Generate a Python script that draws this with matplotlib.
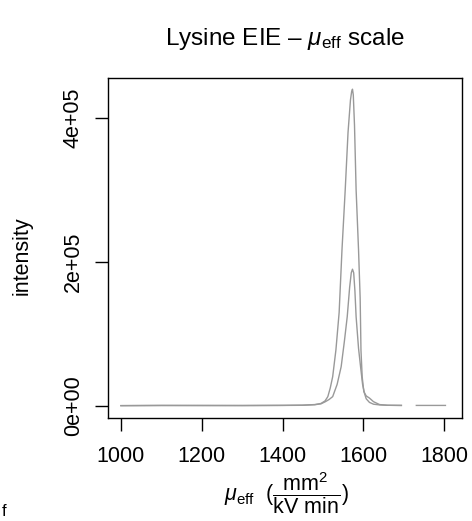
import numpy as np
import matplotlib
matplotlib.use("Agg")
import matplotlib.pyplot as plt

plt.rcParams['font.family'] = ['Liberation Sans', 'DejaVu Sans']
plt.rcParams['mathtext.fontset'] = 'custom'
plt.rcParams['mathtext.rm'] = 'Liberation Sans'
plt.rcParams['mathtext.it'] = 'Liberation Sans:italic'

# tall trace (mu_eff, intensity)
mu_a = [1000, 1100, 1200, 1300, 1400, 1450, 1480, 1495, 1505, 1512, 1518, 1524,
        1532, 1540, 1547, 1555, 1562, 1568, 1571, 1573, 1575, 1578, 1582, 1588,
        1592, 1594, 1597, 1601, 1607, 1615, 1625, 1640, 1660, 1694,
        np.nan, 1731, 1803]
int_a = [500, 800, 600, 700, 900, 1200, 2000, 3500, 7000, 13000, 25000, 40700,
         77800, 130000, 216700, 300000, 380000, 425000, 437000, 440000, 432000,
         390000, 300000, 216700, 150000, 77800, 40700, 20000, 14000, 11000, 6000,
         2000, 1000, 800,
         np.nan, 800, 800]

# lower trace
mu_b = [1000, 1100, 1200, 1300, 1400, 1450, 1480, 1495, 1506, 1515, 1524, 1535,
        1545, 1553, 1560, 1566, 1570, 1573, 1576, 1579, 1582, 1588, 1593, 1598,
        1603, 1607, 1615, 1625, 1640, 1660, 1694]
int_b = [500, 700, 800, 600, 800, 1000, 1800, 3000, 6000, 9000, 13000, 30000,
         54600, 90000, 124000, 165000, 185000, 190000, 185000, 160000, 124000,
         80000, 54600, 30000, 17000, 10000, 5000, 2500, 1500, 1000, 800]

xticks = [1000, 1200, 1400, 1600, 1800]
yticks = [0, 200000, 400000]
ytick_labels = ["0e+00", "2e+05", "4e+05"]

fig = plt.figure(figsize=(4.72, 5.21), dpi=100)
ax = fig.add_axes([0.2288, 0.1977, 0.75, 0.6526])

ax.plot(mu_a, int_a, color="#999999", lw=1.0)
ax.plot(mu_b, int_b, color="#999999", lw=1.0)

ax.set_xlim(968, 1844)
ax.set_ylim(-16667, 455555)
ax.set_xticks(xticks)
ax.set_xticklabels([str(v) for v in xticks])
ax.set_yticks(yticks)
ax.set_yticklabels(ytick_labels, rotation=90, va="center")
ax.tick_params(direction="out", length=9.5, width=1, labelsize=15.5, color="black")
ax.tick_params(axis="x", pad=11)
ax.tick_params(axis="y", pad=8)
for s in ax.spines.values():
    s.set_linewidth(1)
    s.set_color("black")

fig.text(0.603, 0.926, r"Lysine EIE – $\mu_{\mathrm{eff}}$ scale", ha="center", va="center", fontsize=17.5)
fig.text(0.047, 0.51, "intensity", rotation=90, ha="center", va="center", fontsize=15.5)
fig.text(0.606, 0.053, r"$\mu_{\mathrm{eff}}$  $(\dfrac{\mathrm{mm^2}}{\mathrm{kV\ min}})$",
         ha="center", va="center", fontsize=15.5)
fig.text(0.004, 0.004, "f", ha="left", va="bottom", fontsize=12)

fig.savefig("out.png", dpi=100)
